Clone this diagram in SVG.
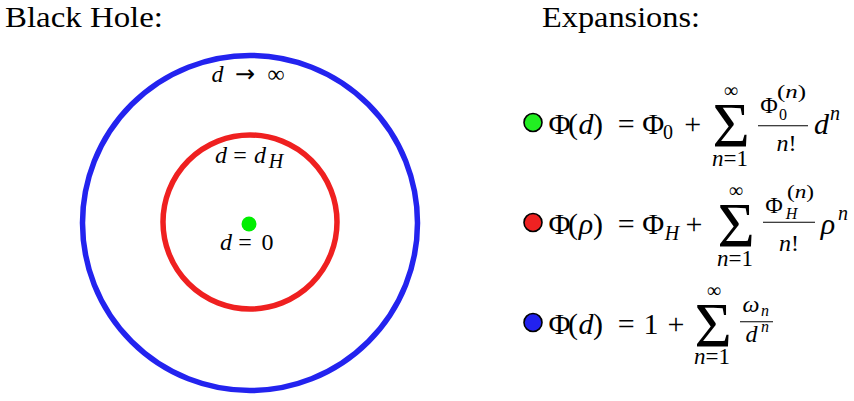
<svg xmlns="http://www.w3.org/2000/svg" width="854" height="401" viewBox="0 0 854 401" font-family="Liberation Serif, DejaVu Serif, serif">
<style>
text{font-family:'Liberation Serif','DejaVu Serif',serif;fill:#000;text-anchor:middle}
.i{font-style:italic}
.t{text-anchor:start;font-size:30px}
.m{font-size:30px}
.s{font-size:20px}
.n1{font-size:23px}
.ss{font-size:16px}
.sp{font-size:19px;text-anchor:start}
.l{font-size:24px}
.sig{font-size:64px}
.ar{font-family:'DejaVu Sans',sans-serif;font-size:24px}
.bar{stroke:#000;stroke-width:1.1}
.mk{stroke:#000;stroke-width:1.6}
</style>
<rect width="854" height="401" fill="#fff"/>
<text class="t" x="5" y="27" textLength="158" lengthAdjust="spacingAndGlyphs">Black Hole:</text>
<text class="t" x="542" y="27" textLength="158" lengthAdjust="spacingAndGlyphs">Expansions:</text>

<g id="outer">
<circle cx="250" cy="223" r="167.5" fill="none" stroke="#2323ef" stroke-width="5.5"/>
<text class="l i" x="217.5" y="81.7">d</text><text class="ar" x="245" y="81.7">→</text><text class="l" x="276" y="81.7">∞</text>
</g>
<g id="horizon">
<circle cx="250" cy="222" r="87" fill="none" stroke="#ef2020" stroke-width="5.5"/>
<text class="l i" x="221" y="163">d</text><text class="l" x="240" y="163">=</text><text class="l i" x="260" y="163">d</text><text class="s i" x="276" y="168">H</text>
</g>
<g id="center">
<circle cx="249" cy="224" r="7.5" fill="#00ee00"/>
<text class="l i" x="226" y="250">d</text><text class="l" x="245" y="250">=</text><text class="l" x="267.5" y="250">0</text>
</g>

<g id="eq1">
<circle class="mk" cx="533" cy="122.5" r="9" fill="#22ee22"/>
<text class="m" x="559.5" y="134">Φ</text><text class="m" x="573" y="134">(</text><text class="m i" x="586" y="134">d</text><text class="m" x="598" y="134">)</text>
<text class="m" x="626.3" y="134">=</text><text class="m" x="653.3" y="134">Φ</text><text class="s" x="668" y="139">0</text>
<text class="m" x="692.7" y="134">+</text>
<text class="sig" x="731" y="146.5">Σ</text><text class="s" x="731" y="97">∞</text>
<text class="n1" x="730" y="166"><tspan class="i">n</tspan>=1</text>
<line class="bar" x1="758" y1="125.7" x2="808" y2="125.7"/>
<text class="l" x="769" y="113.3">Φ</text><text class="ss" x="783" y="120">0</text><text class="sp" x="777" y="98" textLength="29" lengthAdjust="spacingAndGlyphs">(<tspan class="i">n</tspan>)</text>
<text class="l" x="786.5" y="151"><tspan class="i">n</tspan>!</text>
<text class="m i" x="821.5" y="134">d</text><text class="s i" x="835" y="120">n</text>
</g>

<g id="eq2">
<circle class="mk" cx="533" cy="222.5" r="9" fill="#ee2222"/>
<text class="m" x="559.5" y="234">Φ</text><text class="m" x="573" y="234">(</text><text class="m i" x="586" y="234">ρ</text><text class="m" x="598" y="234">)</text>
<text class="m" x="626.3" y="234">=</text><text class="m" x="653.3" y="234">Φ</text><text class="s i" x="672" y="240">H</text>
<text class="m" x="694" y="234">+</text>
<text class="sig" x="736" y="246.5">Σ</text><text class="s" x="736" y="197">∞</text>
<text class="n1" x="735" y="266"><tspan class="i">n</tspan>=1</text>
<line class="bar" x1="763" y1="222.3" x2="815" y2="222.3"/>
<text class="l" x="774" y="213">Φ</text><text class="ss i" x="791.5" y="219">H</text><text class="sp" x="787" y="198" textLength="27" lengthAdjust="spacingAndGlyphs">(<tspan class="i">n</tspan>)</text>
<text class="l" x="789" y="250.5"><tspan class="i">n</tspan>!</text>
<text class="m i" x="828" y="234">ρ</text><text class="s i" x="843" y="220">n</text>
</g>

<g id="eq3">
<circle class="mk" cx="533" cy="322.5" r="9" fill="#2222ee"/>
<text class="m" x="559.5" y="334">Φ</text><text class="m" x="573" y="334">(</text><text class="m i" x="586" y="334">d</text><text class="m" x="598" y="334">)</text>
<text class="m" x="626.3" y="334">=</text><text class="m" x="651" y="334">1</text>
<text class="m" x="676" y="334">+</text>
<text class="sig" x="713" y="346.5">Σ</text><text class="s" x="714" y="297">∞</text>
<text class="n1" x="712" y="364"><tspan class="i">n</tspan>=1</text>
<line class="bar" x1="740" y1="321.7" x2="773" y2="321.7"/>
<text class="l i" x="751" y="312">ω</text><text class="ss i" x="765" y="316">n</text>
<text class="l i" x="751.5" y="342">d</text><text class="ss i" x="765" y="332">n</text>
</g>
</svg>
